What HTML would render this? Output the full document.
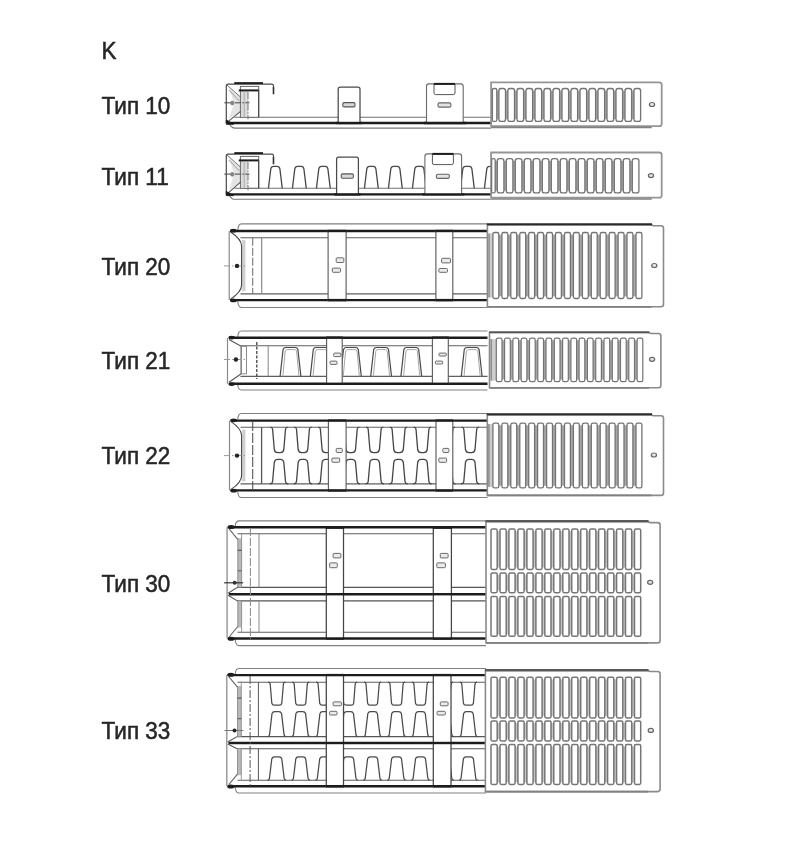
<!DOCTYPE html>
<html lang="ru">
<head>
<meta charset="utf-8">
<title>K — Тип 10, 11, 20, 21, 22, 30, 33</title>
<style>
html,body{margin:0;padding:0;background:#fff;}
body{width:790px;height:855px;position:relative;overflow:hidden;font-family:"Liberation Sans",sans-serif;}
.lb{position:absolute;left:101.6px;font-size:22.5px;line-height:26px;height:26px;color:#262626;white-space:nowrap;filter:blur(0.75px);transform:scaleY(1.05);transform-origin:0 13px;-webkit-text-stroke:0.5px #262626;}
svg{position:absolute;left:0;top:0;filter:blur(0.5px);}
</style>
</head>
<body>
<div class="lb" style="top:39.00px">K</div>
<div class="lb" style="top:93.55px">Тип 10</div>
<div class="lb" style="top:164.90px">Тип 11</div>
<div class="lb" style="top:255.05px">Тип 20</div>
<div class="lb" style="top:348.85px">Тип 21</div>
<div class="lb" style="top:444.40px">Тип 22</div>
<div class="lb" style="top:571.90px">Тип 30</div>
<div class="lb" style="top:719.30px">Тип 33</div>
<svg width="790" height="855" viewBox="0 0 790 855" fill="none" stroke-linecap="butt">
<line x1="234.5" y1="117.3" x2="491.0" y2="117.3" stroke="#707070" stroke-width="1.1" />
<line x1="227.0" y1="123.0" x2="491.0" y2="123.0" stroke="#1c1c1c" stroke-width="2.4" />
<path d="M229.5,124.0 Q231.5,128.1 235,128.1 H491" fill="none" stroke="#787878" stroke-width="1.1" />
<polygon points="229,88.1 240.3,97.1 240.3,111.3 229,119.0 234,102.8" fill="#d9d9d9" opacity="0.7"/>
<path d="M226.3,123.0 V85.6 Q226.3,84.1 227.8,84.1 H271.7 Q273.5,84.1 273.5,85.9 V93.9" fill="none" stroke="#4a4a4a" stroke-width="1.2" />
<line x1="273.5" y1="87.1" x2="273.5" y2="94.3" stroke="#333" stroke-width="1.5" />
<line x1="234.3" y1="83.1" x2="263.0" y2="83.1" stroke="#1c1c1c" stroke-width="1.9" />
<rect x="240.4" y="86.4" width="18.3" height="30.9" rx="0" fill="#fff" stroke="#666" stroke-width="1.0"/>
<rect x="241" y="91.1" width="7" height="25.7" fill="#dcdcdc"/>
<line x1="238.8" y1="90.4" x2="258.8" y2="90.4" stroke="#1c1c1c" stroke-width="2.0" />
<line x1="244.2" y1="91.1" x2="244.2" y2="117.3" stroke="#aaa" stroke-width="1.0" />
<line x1="258.7" y1="90.1" x2="258.7" y2="117.3" stroke="#444" stroke-width="1.1" />
<line x1="226.5" y1="84.6" x2="240.5" y2="97.1" stroke="#707070" stroke-width="1.0" />
<line x1="229.0" y1="90.1" x2="239.5" y2="101.1" stroke="#999" stroke-width="1.0" />
<line x1="227.5" y1="122.2" x2="240.5" y2="111.3" stroke="#555" stroke-width="1.1" />
<path d="M226.3,120.0 L233.5,124.2 H226.3 Z" fill="#1c1c1c" stroke="#1c1c1c" stroke-width="1.0" />
<line x1="224.3" y1="102.8" x2="249.5" y2="102.8" stroke="#444" stroke-width="1.0" stroke-dasharray="6 1.5 1.5 1.5"/>
<line x1="248.0" y1="92.1" x2="248.0" y2="119.3" stroke="#777" stroke-width="1.0" stroke-dasharray="7 1.5 1.5 1.5"/>
<ellipse cx="232.2" cy="103.0" rx="1.7" ry="1.9" fill="#888" stroke="#777" stroke-width="0.8"/>
<path d="M338.2,123.0 V89.2 Q338.2,87.2 340.2,87.2 H358.0 Q360.0,87.2 360.0,89.2 V123.0" fill="#fff" stroke="#4a4a4a" stroke-width="1.25" />
<rect x="342.8" y="102.6" width="12.2" height="4.3" rx="1.4" fill="#d8d8d8" stroke="#555" stroke-width="1.1"/>
<path d="M426.5,123.0 V86.4 Q426.5,83.9 429.0,83.9 H460.7 Q463.2,83.9 463.2,86.4 V123.0" fill="#fff" stroke="#6a6a6a" stroke-width="1.1" />
<path d="M434.0,83.9 V92.9 Q434.0,94.6 435.7,94.6 H453.3 Q455.0,94.6 455.0,92.9 V83.9" fill="none" stroke="#555" stroke-width="1.0" />
<line x1="434.0" y1="83.9" x2="455.0" y2="83.9" stroke="#1c1c1c" stroke-width="2.0" />
<rect x="438.0" y="102.9" width="12.9" height="4.2" rx="1.4" fill="#e4e4e4" stroke="#666" stroke-width="1.1"/>
<line x1="336.0" y1="123.0" x2="362.0" y2="123.0" stroke="#1c1c1c" stroke-width="2.4" />
<line x1="424.0" y1="123.0" x2="466.0" y2="123.0" stroke="#1c1c1c" stroke-width="2.4" />
<path d="M491.1,82.3 H659.2 Q661.7,82.3 661.7,84.8 V123.7 Q661.7,126.2 659.2,126.2 H491.1 Z" fill="#fff" stroke="#959595" stroke-width="1.8" />
<line x1="491.1" y1="127.5" x2="651.7" y2="127.5" stroke="#808080" stroke-width="1.4" />
<rect x="493.4" y="90.7" width="146.2" height="28.5" fill="#a8a8a8"/>
<rect x="492.4" y="88.5" width="4.4" height="32.9" rx="1.5" fill="#fff" stroke="#747474" stroke-width="1.3"/>
<rect x="498.9" y="88.5" width="6.6" height="32.9" rx="2.2" fill="#fff" stroke="#747474" stroke-width="1.3"/>
<rect x="507.9" y="88.5" width="6.6" height="32.9" rx="2.2" fill="#fff" stroke="#747474" stroke-width="1.3"/>
<rect x="517.0" y="88.5" width="6.6" height="32.9" rx="2.2" fill="#fff" stroke="#747474" stroke-width="1.3"/>
<rect x="526.0" y="88.5" width="6.6" height="32.9" rx="2.2" fill="#fff" stroke="#747474" stroke-width="1.3"/>
<rect x="535.0" y="88.5" width="6.6" height="32.9" rx="2.2" fill="#fff" stroke="#747474" stroke-width="1.3"/>
<rect x="544.0" y="88.5" width="6.6" height="32.9" rx="2.2" fill="#fff" stroke="#747474" stroke-width="1.3"/>
<rect x="553.0" y="88.5" width="6.6" height="32.9" rx="2.2" fill="#fff" stroke="#747474" stroke-width="1.3"/>
<rect x="562.0" y="88.5" width="6.6" height="32.9" rx="2.2" fill="#fff" stroke="#747474" stroke-width="1.3"/>
<rect x="571.0" y="88.5" width="6.6" height="32.9" rx="2.2" fill="#fff" stroke="#747474" stroke-width="1.3"/>
<rect x="580.0" y="88.5" width="6.6" height="32.9" rx="2.2" fill="#fff" stroke="#747474" stroke-width="1.3"/>
<rect x="589.0" y="88.5" width="6.6" height="32.9" rx="2.2" fill="#fff" stroke="#747474" stroke-width="1.3"/>
<rect x="598.0" y="88.5" width="6.6" height="32.9" rx="2.2" fill="#fff" stroke="#747474" stroke-width="1.3"/>
<rect x="607.0" y="88.5" width="6.6" height="32.9" rx="2.2" fill="#fff" stroke="#747474" stroke-width="1.3"/>
<rect x="616.0" y="88.5" width="6.6" height="32.9" rx="2.2" fill="#fff" stroke="#747474" stroke-width="1.3"/>
<rect x="625.0" y="88.5" width="6.6" height="32.9" rx="2.2" fill="#fff" stroke="#747474" stroke-width="1.3"/>
<rect x="634.0" y="88.5" width="6.6" height="32.9" rx="2.2" fill="#fff" stroke="#747474" stroke-width="1.3"/>
<ellipse cx="652.0" cy="104.5" rx="2.6" ry="2.0" fill="#e6e6e6" stroke="#666" stroke-width="1.2"/>
<path d="M268.4,188.7 L270.8,168.8 Q271.3,166.3 273.6,166.3 H277.1 Q279.4,166.3 279.9,168.8 L282.3,188.7" fill="none" stroke="#484848" stroke-width="1.3" />
<path d="M292.4,188.7 L294.8,168.8 Q295.3,166.3 297.6,166.3 H301.1 Q303.4,166.3 303.9,168.8 L306.3,188.7" fill="none" stroke="#484848" stroke-width="1.3" />
<path d="M316.4,188.7 L318.8,168.8 Q319.3,166.3 321.6,166.3 H325.1 Q327.4,166.3 327.9,168.8 L330.3,188.7" fill="none" stroke="#484848" stroke-width="1.3" />
<path d="M340.4,188.7 L342.8,168.8 Q343.3,166.3 345.6,166.3 H349.1 Q351.4,166.3 351.9,168.8 L354.3,188.7" fill="none" stroke="#484848" stroke-width="1.3" />
<path d="M364.4,188.7 L366.8,168.8 Q367.3,166.3 369.6,166.3 H373.1 Q375.4,166.3 375.9,168.8 L378.3,188.7" fill="none" stroke="#484848" stroke-width="1.3" />
<path d="M388.4,188.7 L390.8,168.8 Q391.3,166.3 393.6,166.3 H397.1 Q399.4,166.3 399.9,168.8 L402.3,188.7" fill="none" stroke="#484848" stroke-width="1.3" />
<path d="M412.4,188.7 L414.8,168.8 Q415.3,166.3 417.6,166.3 H421.1 Q423.4,166.3 423.9,168.8 L426.3,188.7" fill="none" stroke="#484848" stroke-width="1.3" />
<path d="M436.4,188.7 L438.8,168.8 Q439.3,166.3 441.6,166.3 H445.1 Q447.4,166.3 447.9,168.8 L450.3,188.7" fill="none" stroke="#484848" stroke-width="1.3" />
<path d="M460.4,188.7 L462.8,168.8 Q463.3,166.3 465.6,166.3 H469.1 Q471.4,166.3 471.9,168.8 L474.3,188.7" fill="none" stroke="#484848" stroke-width="1.3" />
<path d="M484.4,188.7 L486.8,168.8 Q487.3,166.3 489.6,166.3 H493.1 Q495.4,166.3 495.9,168.8 L498.3,188.7" fill="none" stroke="#484848" stroke-width="1.3" />
<line x1="234.5" y1="188.2" x2="491.0" y2="188.2" stroke="#707070" stroke-width="1.1" />
<line x1="227.0" y1="194.4" x2="491.0" y2="194.4" stroke="#1c1c1c" stroke-width="2.4" />
<path d="M229.5,195.4 Q231.5,199.3 235,199.3 H491" fill="none" stroke="#787878" stroke-width="1.1" />
<polygon points="229,158.1 240.3,167.1 240.3,182.2 229,190.4 234,174.1" fill="#d9d9d9" opacity="0.7"/>
<path d="M226.3,194.4 V155.6 Q226.3,154.1 227.8,154.1 H271.7 Q273.5,154.1 273.5,155.9 V163.9" fill="none" stroke="#4a4a4a" stroke-width="1.2" />
<line x1="273.5" y1="157.1" x2="273.5" y2="164.3" stroke="#333" stroke-width="1.5" />
<line x1="234.3" y1="153.1" x2="263.0" y2="153.1" stroke="#1c1c1c" stroke-width="1.9" />
<rect x="240.4" y="156.4" width="18.3" height="31.8" rx="0" fill="#fff" stroke="#666" stroke-width="1.0"/>
<rect x="241" y="161.1" width="7" height="26.6" fill="#dcdcdc"/>
<line x1="238.8" y1="160.4" x2="258.8" y2="160.4" stroke="#1c1c1c" stroke-width="2.0" />
<line x1="244.2" y1="161.1" x2="244.2" y2="188.2" stroke="#aaa" stroke-width="1.0" />
<line x1="258.7" y1="160.1" x2="258.7" y2="188.2" stroke="#444" stroke-width="1.1" />
<line x1="226.5" y1="154.6" x2="240.5" y2="167.1" stroke="#707070" stroke-width="1.0" />
<line x1="229.0" y1="160.1" x2="239.5" y2="171.1" stroke="#999" stroke-width="1.0" />
<line x1="227.5" y1="193.6" x2="240.5" y2="182.2" stroke="#555" stroke-width="1.1" />
<path d="M226.3,191.4 L233.5,195.6 H226.3 Z" fill="#1c1c1c" stroke="#1c1c1c" stroke-width="1.0" />
<line x1="224.3" y1="174.1" x2="249.5" y2="174.1" stroke="#444" stroke-width="1.0" stroke-dasharray="6 1.5 1.5 1.5"/>
<line x1="248.0" y1="162.1" x2="248.0" y2="190.2" stroke="#777" stroke-width="1.0" stroke-dasharray="7 1.5 1.5 1.5"/>
<ellipse cx="232.2" cy="174.3" rx="1.7" ry="1.9" fill="#888" stroke="#777" stroke-width="0.8"/>
<path d="M336.6,194.4 V159.2 Q336.6,157.2 338.6,157.2 H356.4 Q358.4,157.2 358.4,159.2 V194.4" fill="#fff" stroke="#4a4a4a" stroke-width="1.25" />
<rect x="341.2" y="173.9" width="12.2" height="4.3" rx="1.4" fill="#d8d8d8" stroke="#555" stroke-width="1.1"/>
<path d="M424.9,194.4 V156.4 Q424.9,153.9 427.4,153.9 H459.1 Q461.6,153.9 461.6,156.4 V194.4" fill="#fff" stroke="#6a6a6a" stroke-width="1.1" />
<path d="M432.4,153.9 V162.9 Q432.4,164.6 434.1,164.6 H451.7 Q453.4,164.6 453.4,162.9 V153.9" fill="none" stroke="#555" stroke-width="1.0" />
<line x1="432.4" y1="153.9" x2="453.4" y2="153.9" stroke="#1c1c1c" stroke-width="2.0" />
<rect x="436.4" y="174.2" width="12.9" height="4.2" rx="1.4" fill="#e4e4e4" stroke="#666" stroke-width="1.1"/>
<line x1="334.4" y1="194.4" x2="360.4" y2="194.4" stroke="#1c1c1c" stroke-width="2.4" />
<line x1="422.4" y1="194.4" x2="464.4" y2="194.4" stroke="#1c1c1c" stroke-width="2.4" />
<path d="M491.1,152.5 H659.2 Q661.7,152.5 661.7,155.0 V195.2 Q661.7,197.7 659.2,197.7 H491.1 Z" fill="#fff" stroke="#959595" stroke-width="1.8" />
<line x1="491.1" y1="199.0" x2="651.7" y2="199.0" stroke="#808080" stroke-width="1.4" />
<rect x="492.6" y="160.9" width="145.3" height="29.8" fill="#a8a8a8"/>
<rect x="491.6" y="158.7" width="3.6" height="34.2" rx="1.5" fill="#fff" stroke="#747474" stroke-width="1.3"/>
<rect x="497.3" y="158.7" width="6.6" height="34.2" rx="2.2" fill="#fff" stroke="#747474" stroke-width="1.3"/>
<rect x="506.3" y="158.7" width="6.6" height="34.2" rx="2.2" fill="#fff" stroke="#747474" stroke-width="1.3"/>
<rect x="515.3" y="158.7" width="6.6" height="34.2" rx="2.2" fill="#fff" stroke="#747474" stroke-width="1.3"/>
<rect x="524.3" y="158.7" width="6.6" height="34.2" rx="2.2" fill="#fff" stroke="#747474" stroke-width="1.3"/>
<rect x="533.3" y="158.7" width="6.6" height="34.2" rx="2.2" fill="#fff" stroke="#747474" stroke-width="1.3"/>
<rect x="542.3" y="158.7" width="6.6" height="34.2" rx="2.2" fill="#fff" stroke="#747474" stroke-width="1.3"/>
<rect x="551.3" y="158.7" width="6.6" height="34.2" rx="2.2" fill="#fff" stroke="#747474" stroke-width="1.3"/>
<rect x="560.3" y="158.7" width="6.6" height="34.2" rx="2.2" fill="#fff" stroke="#747474" stroke-width="1.3"/>
<rect x="569.3" y="158.7" width="6.6" height="34.2" rx="2.2" fill="#fff" stroke="#747474" stroke-width="1.3"/>
<rect x="578.3" y="158.7" width="6.6" height="34.2" rx="2.2" fill="#fff" stroke="#747474" stroke-width="1.3"/>
<rect x="587.3" y="158.7" width="6.6" height="34.2" rx="2.2" fill="#fff" stroke="#747474" stroke-width="1.3"/>
<rect x="596.3" y="158.7" width="6.6" height="34.2" rx="2.2" fill="#fff" stroke="#747474" stroke-width="1.3"/>
<rect x="605.3" y="158.7" width="6.6" height="34.2" rx="2.2" fill="#fff" stroke="#747474" stroke-width="1.3"/>
<rect x="614.3" y="158.7" width="6.6" height="34.2" rx="2.2" fill="#fff" stroke="#747474" stroke-width="1.3"/>
<rect x="623.3" y="158.7" width="6.6" height="34.2" rx="2.2" fill="#fff" stroke="#747474" stroke-width="1.3"/>
<rect x="632.3" y="158.7" width="6.6" height="34.2" rx="2.2" fill="#fff" stroke="#747474" stroke-width="1.3"/>
<ellipse cx="651.0" cy="175.6" rx="2.6" ry="2.0" fill="#e6e6e6" stroke="#666" stroke-width="1.2"/>
<path d="M237.8,230.0 Q238.0,223.9 241.5,223.9 H487.5" fill="none" stroke="#808080" stroke-width="1.1" />
<path d="M237.8,301.1 Q238.0,307.5 241.5,307.5 H487.5" fill="none" stroke="#808080" stroke-width="1.1" />
<line x1="230.2" y1="231.0" x2="487.5" y2="231.0" stroke="#1c1c1c" stroke-width="2.4" />
<line x1="230.2" y1="300.1" x2="487.5" y2="300.1" stroke="#1c1c1c" stroke-width="2.4" />
<line x1="240.5" y1="237.7" x2="487.5" y2="237.7" stroke="#5e5e5e" stroke-width="1.1" />
<line x1="240.5" y1="293.9" x2="487.5" y2="293.9" stroke="#5e5e5e" stroke-width="1.1" />
<path d="M229.2,231.0 V300.1" fill="none" stroke="#8a8a8a" stroke-width="1.2" />
<rect x="242.2" y="240.0" width="3.2" height="51.1" fill="#cfcfcf"/>
<path d="M230.7,232.0 C235.2,235.0 241.6,240.0 241.6,246.0 V285.1 C241.6,291.1 235.2,296.1 230.7,299.1" fill="none" stroke="#444" stroke-width="1.1" />
<ellipse cx="233.4" cy="230.7" rx="3.3" ry="1.9" fill="#1c1c1c"/>
<ellipse cx="233.4" cy="300.4" rx="3.3" ry="1.9" fill="#1c1c1c"/>
<line x1="252.7" y1="237.7" x2="252.7" y2="294.0" stroke="#777" stroke-width="1.1" stroke-dasharray="8 2"/>
<line x1="261.7" y1="237.7" x2="261.7" y2="293.9" stroke="#8a8a8a" stroke-width="1.2" />
<line x1="224.0" y1="265.9" x2="246.5" y2="265.9" stroke="#999" stroke-width="1.0" stroke-dasharray="6 2 1.5 2"/>
<circle cx="237" cy="265.9" r="2.2" fill="#222"/>
<rect x="328.1" y="231.0" width="18.0" height="69.1" rx="0" fill="#fff" stroke="#5e5e5e" stroke-width="1.15"/>
<line x1="327.6" y1="231.0" x2="346.6" y2="231.0" stroke="#1c1c1c" stroke-width="2.4" />
<line x1="327.6" y1="300.1" x2="346.6" y2="300.1" stroke="#1c1c1c" stroke-width="2.4" />
<rect x="336.2" y="257.8" width="7.6" height="4.7" rx="0.9" fill="#ebebeb" stroke="#6a6a6a" stroke-width="1.0"/>
<rect x="332.3" y="268.1" width="8.2" height="4.2" rx="0.9" fill="#ebebeb" stroke="#6a6a6a" stroke-width="1.0"/>
<rect x="435.9" y="231.0" width="16.9" height="69.1" rx="0" fill="#fff" stroke="#5e5e5e" stroke-width="1.15"/>
<line x1="435.4" y1="231.0" x2="453.3" y2="231.0" stroke="#1c1c1c" stroke-width="2.4" />
<line x1="435.4" y1="300.1" x2="453.3" y2="300.1" stroke="#1c1c1c" stroke-width="2.4" />
<rect x="441.6" y="258.3" width="8.9" height="4.6" rx="0.9" fill="#ebebeb" stroke="#6a6a6a" stroke-width="1.0"/>
<rect x="438.9" y="268.5" width="8.6" height="3.8" rx="0.9" fill="#ebebeb" stroke="#6a6a6a" stroke-width="1.0"/>
<path d="M487.4,224.9 H651.5 L653.5,225.7 H661.0 Q663.5,225.7 663.5,228.2 V304.3 Q663.5,306.8 661.0,306.8 H487.4 Z" fill="#fff" stroke="#8a8a8a" stroke-width="1.6" />
<line x1="486.9" y1="224.3" x2="652.0" y2="224.3" stroke="#2a2a2a" stroke-width="1.9" />
<line x1="487.4" y1="306.8" x2="651.5" y2="306.8" stroke="#808080" stroke-width="1.8" />
<rect x="488.6" y="233.5" width="5.6" height="64.0" fill="#cdcdcd"/>
<line x1="489.0" y1="233.5" x2="489.0" y2="297.5" stroke="#666" stroke-width="1.0" />
<rect x="493.9" y="234.7" width="146.9" height="61.6" fill="#a8a8a8"/>
<rect x="492.9" y="232.5" width="5.9" height="66.0" rx="1.7" fill="#fff" stroke="#747474" stroke-width="1.3"/>
<rect x="501.9" y="232.5" width="5.9" height="66.0" rx="1.7" fill="#fff" stroke="#747474" stroke-width="1.3"/>
<rect x="510.8" y="232.5" width="5.9" height="66.0" rx="1.7" fill="#fff" stroke="#747474" stroke-width="1.3"/>
<rect x="519.8" y="232.5" width="5.9" height="66.0" rx="1.7" fill="#fff" stroke="#747474" stroke-width="1.3"/>
<rect x="528.7" y="232.5" width="5.9" height="66.0" rx="1.7" fill="#fff" stroke="#747474" stroke-width="1.3"/>
<rect x="537.6" y="232.5" width="5.9" height="66.0" rx="1.7" fill="#fff" stroke="#747474" stroke-width="1.3"/>
<rect x="546.6" y="232.5" width="5.9" height="66.0" rx="1.7" fill="#fff" stroke="#747474" stroke-width="1.3"/>
<rect x="555.5" y="232.5" width="5.9" height="66.0" rx="1.7" fill="#fff" stroke="#747474" stroke-width="1.3"/>
<rect x="564.5" y="232.5" width="5.9" height="66.0" rx="1.7" fill="#fff" stroke="#747474" stroke-width="1.3"/>
<rect x="573.4" y="232.5" width="5.9" height="66.0" rx="1.7" fill="#fff" stroke="#747474" stroke-width="1.3"/>
<rect x="582.4" y="232.5" width="5.9" height="66.0" rx="1.7" fill="#fff" stroke="#747474" stroke-width="1.3"/>
<rect x="591.3" y="232.5" width="5.9" height="66.0" rx="1.7" fill="#fff" stroke="#747474" stroke-width="1.3"/>
<rect x="600.2" y="232.5" width="5.9" height="66.0" rx="1.7" fill="#fff" stroke="#747474" stroke-width="1.3"/>
<rect x="609.2" y="232.5" width="5.9" height="66.0" rx="1.7" fill="#fff" stroke="#747474" stroke-width="1.3"/>
<rect x="618.1" y="232.5" width="5.9" height="66.0" rx="1.7" fill="#fff" stroke="#747474" stroke-width="1.3"/>
<rect x="627.0" y="232.5" width="5.9" height="66.0" rx="1.7" fill="#fff" stroke="#747474" stroke-width="1.3"/>
<rect x="636.0" y="232.5" width="5.9" height="66.0" rx="1.7" fill="#fff" stroke="#747474" stroke-width="1.3"/>
<ellipse cx="654.3" cy="265.5" rx="2.6" ry="2.0" fill="#e6e6e6" stroke="#666" stroke-width="1.2"/>
<path d="M237.8,336.7 Q238.0,331.0 241.5,331.0 H487.5" fill="none" stroke="#808080" stroke-width="1.1" />
<path d="M237.8,384.8 Q238.0,390.0 241.5,390.0 H487.5" fill="none" stroke="#808080" stroke-width="1.1" />
<line x1="229.3" y1="337.7" x2="487.5" y2="337.7" stroke="#1c1c1c" stroke-width="2.4" />
<line x1="229.3" y1="383.8" x2="487.5" y2="383.8" stroke="#1c1c1c" stroke-width="2.4" />
<line x1="240.5" y1="345.7" x2="487.5" y2="345.7" stroke="#5e5e5e" stroke-width="1.1" />
<line x1="240.5" y1="376.4" x2="487.5" y2="376.4" stroke="#5e5e5e" stroke-width="1.1" />
<path d="M227.5,337.9 V383.8" fill="none" stroke="#8a8a8a" stroke-width="1.2" />
<path d="M229.0,339.4 L241.2,346.3 V373.8 L229.0,382.3" fill="none" stroke="#555" stroke-width="1.1" />
<rect x="241.2" y="346.3" width="5.3" height="27.5" rx="0" fill="none" stroke="#8a8a8a" stroke-width="1.0"/>
<ellipse cx="231.7" cy="337.6" rx="3.3" ry="1.9" fill="#1c1c1c"/>
<ellipse cx="231.7" cy="384.1" rx="3.3" ry="1.9" fill="#1c1c1c"/>
<path d="M282.8,376.4 L285.2,351.1 Q285.8,349.6 287.3,349.6 H294.5 Q296.0,349.6 296.6,351.1 L299.0,376.4" fill="none" stroke="#a6a6a6" stroke-width="1.0" />
<path d="M280.1,376.4 L283.1,349.5 Q283.8,347.5 285.8,347.5 H295.2 Q297.2,347.5 297.9,349.5 L300.9,376.4" fill="none" stroke="#4a4a4a" stroke-width="1.2" />
<path d="M313.0,376.4 L315.4,351.1 Q316.0,349.6 317.5,349.6 H324.7 Q326.2,349.6 326.8,351.1 L329.2,376.4" fill="none" stroke="#a6a6a6" stroke-width="1.0" />
<path d="M310.3,376.4 L313.3,349.5 Q314.0,347.5 316.0,347.5 H325.4 Q327.4,347.5 328.1,349.5 L331.1,376.4" fill="none" stroke="#4a4a4a" stroke-width="1.2" />
<path d="M343.2,376.4 L345.6,351.1 Q346.2,349.6 347.7,349.6 H354.9 Q356.4,349.6 357.0,351.1 L359.4,376.4" fill="none" stroke="#a6a6a6" stroke-width="1.0" />
<path d="M340.5,376.4 L343.5,349.5 Q344.2,347.5 346.2,347.5 H355.6 Q357.6,347.5 358.3,349.5 L361.3,376.4" fill="none" stroke="#4a4a4a" stroke-width="1.2" />
<path d="M373.4,376.4 L375.8,351.1 Q376.4,349.6 377.9,349.6 H385.1 Q386.6,349.6 387.2,351.1 L389.6,376.4" fill="none" stroke="#a6a6a6" stroke-width="1.0" />
<path d="M370.7,376.4 L373.7,349.5 Q374.4,347.5 376.4,347.5 H385.8 Q387.8,347.5 388.5,349.5 L391.5,376.4" fill="none" stroke="#4a4a4a" stroke-width="1.2" />
<path d="M403.6,376.4 L406.0,351.1 Q406.6,349.6 408.1,349.6 H415.3 Q416.8,349.6 417.4,351.1 L419.8,376.4" fill="none" stroke="#a6a6a6" stroke-width="1.0" />
<path d="M400.9,376.4 L403.9,349.5 Q404.6,347.5 406.6,347.5 H416.0 Q418.0,347.5 418.7,349.5 L421.7,376.4" fill="none" stroke="#4a4a4a" stroke-width="1.2" />
<path d="M464.0,376.4 L466.4,351.1 Q467.0,349.6 468.5,349.6 H475.7 Q477.2,349.6 477.8,351.1 L480.2,376.4" fill="none" stroke="#a6a6a6" stroke-width="1.0" />
<path d="M461.3,376.4 L464.3,349.5 Q465.0,347.5 467.0,347.5 H476.4 Q478.4,347.5 479.1,349.5 L482.1,376.4" fill="none" stroke="#4a4a4a" stroke-width="1.2" />
<line x1="256.8" y1="342.0" x2="256.8" y2="379.0" stroke="#333" stroke-width="1.2" stroke-dasharray="3 1.5"/>
<line x1="268.2" y1="346.0" x2="268.2" y2="376.0" stroke="#999" stroke-width="1.2" />
<line x1="224.0" y1="359.5" x2="246.5" y2="359.5" stroke="#999" stroke-width="1.0" stroke-dasharray="6 2 1.5 2"/>
<circle cx="235.9" cy="359.5" r="2.2" fill="#222"/>
<rect x="326.6" y="337.7" width="15.6" height="46.1" rx="0" fill="#fff" stroke="#5e5e5e" stroke-width="1.15"/>
<line x1="326.1" y1="337.7" x2="342.7" y2="337.7" stroke="#1c1c1c" stroke-width="2.4" />
<line x1="326.1" y1="383.8" x2="342.7" y2="383.8" stroke="#1c1c1c" stroke-width="2.4" />
<rect x="333.7" y="353.1" width="7.2" height="3.5" rx="0.9" fill="#ebebeb" stroke="#6a6a6a" stroke-width="1.0"/>
<rect x="330.1" y="361.1" width="6.9" height="3.3" rx="0.9" fill="#ebebeb" stroke="#6a6a6a" stroke-width="1.0"/>
<rect x="432.4" y="337.7" width="15.9" height="46.1" rx="0" fill="#fff" stroke="#5e5e5e" stroke-width="1.15"/>
<line x1="431.9" y1="337.7" x2="448.8" y2="337.7" stroke="#1c1c1c" stroke-width="2.4" />
<line x1="431.9" y1="383.8" x2="448.8" y2="383.8" stroke="#1c1c1c" stroke-width="2.4" />
<rect x="438.9" y="353.1" width="7.4" height="2.9" rx="0.9" fill="#ebebeb" stroke="#6a6a6a" stroke-width="1.0"/>
<rect x="435.4" y="361.1" width="7.3" height="2.9" rx="0.9" fill="#ebebeb" stroke="#6a6a6a" stroke-width="1.0"/>
<path d="M489.5,332.7 H648.9 L650.9,333.5 H658.4 Q660.9,333.5 660.9,336.0 V385.3 Q660.9,387.8 658.4,387.8 H489.5 Z" fill="#fff" stroke="#8a8a8a" stroke-width="1.6" />
<line x1="489.0" y1="332.1" x2="649.4" y2="332.1" stroke="#555" stroke-width="1.9" />
<line x1="489.5" y1="387.8" x2="648.9" y2="387.8" stroke="#808080" stroke-width="1.8" />
<rect x="490.7" y="339.1" width="6.8" height="41.6" fill="#cdcdcd"/>
<line x1="491.1" y1="339.1" x2="491.1" y2="380.7" stroke="#666" stroke-width="1.0" />
<rect x="497.3" y="340.3" width="144.5" height="39.2" fill="#a8a8a8"/>
<rect x="496.3" y="338.1" width="5.7" height="43.6" rx="1.7" fill="#fff" stroke="#747474" stroke-width="1.2"/>
<rect x="504.6" y="338.1" width="5.7" height="43.6" rx="1.7" fill="#fff" stroke="#747474" stroke-width="1.2"/>
<rect x="512.9" y="338.1" width="5.7" height="43.6" rx="1.7" fill="#fff" stroke="#747474" stroke-width="1.2"/>
<rect x="521.2" y="338.1" width="5.7" height="43.6" rx="1.7" fill="#fff" stroke="#747474" stroke-width="1.2"/>
<rect x="529.5" y="338.1" width="5.7" height="43.6" rx="1.7" fill="#fff" stroke="#747474" stroke-width="1.2"/>
<rect x="537.8" y="338.1" width="5.7" height="43.6" rx="1.7" fill="#fff" stroke="#747474" stroke-width="1.2"/>
<rect x="546.0" y="338.1" width="5.7" height="43.6" rx="1.7" fill="#fff" stroke="#747474" stroke-width="1.2"/>
<rect x="554.3" y="338.1" width="5.7" height="43.6" rx="1.7" fill="#fff" stroke="#747474" stroke-width="1.2"/>
<rect x="562.6" y="338.1" width="5.7" height="43.6" rx="1.7" fill="#fff" stroke="#747474" stroke-width="1.2"/>
<rect x="570.9" y="338.1" width="5.7" height="43.6" rx="1.7" fill="#fff" stroke="#747474" stroke-width="1.2"/>
<rect x="579.1" y="338.1" width="5.7" height="43.6" rx="1.7" fill="#fff" stroke="#747474" stroke-width="1.2"/>
<rect x="587.4" y="338.1" width="5.7" height="43.6" rx="1.7" fill="#fff" stroke="#747474" stroke-width="1.2"/>
<rect x="595.7" y="338.1" width="5.7" height="43.6" rx="1.7" fill="#fff" stroke="#747474" stroke-width="1.2"/>
<rect x="604.0" y="338.1" width="5.7" height="43.6" rx="1.7" fill="#fff" stroke="#747474" stroke-width="1.2"/>
<rect x="612.3" y="338.1" width="5.7" height="43.6" rx="1.7" fill="#fff" stroke="#747474" stroke-width="1.2"/>
<rect x="620.5" y="338.1" width="5.7" height="43.6" rx="1.7" fill="#fff" stroke="#747474" stroke-width="1.2"/>
<rect x="628.8" y="338.1" width="5.7" height="43.6" rx="1.7" fill="#fff" stroke="#747474" stroke-width="1.2"/>
<rect x="637.1" y="338.1" width="5.7" height="43.6" rx="1.7" fill="#fff" stroke="#747474" stroke-width="1.2"/>
<ellipse cx="652.1" cy="359.3" rx="2.6" ry="2.0" fill="#e6e6e6" stroke="#666" stroke-width="1.2"/>
<path d="M237.8,419.6 Q238.0,413.5 241.5,413.5 H487.5" fill="none" stroke="#808080" stroke-width="1.1" />
<path d="M237.8,491.4 Q238.0,497.5 241.5,497.5 H487.5" fill="none" stroke="#808080" stroke-width="1.1" />
<line x1="230.5" y1="420.6" x2="487.5" y2="420.6" stroke="#1c1c1c" stroke-width="2.4" />
<line x1="230.5" y1="490.4" x2="487.5" y2="490.4" stroke="#1c1c1c" stroke-width="2.4" />
<line x1="240.5" y1="427.2" x2="487.5" y2="427.2" stroke="#5e5e5e" stroke-width="1.1" />
<line x1="240.5" y1="483.9" x2="487.5" y2="483.9" stroke="#5e5e5e" stroke-width="1.1" />
<path d="M229.5,420.6 V490.4" fill="none" stroke="#8a8a8a" stroke-width="1.2" />
<rect x="242.2" y="429.6" width="3.2" height="51.8" fill="#cfcfcf"/>
<path d="M231.0,421.6 C235.5,424.6 241.6,429.6 241.6,435.6 V475.4 C241.6,481.4 235.5,486.4 231.0,489.4" fill="none" stroke="#444" stroke-width="1.1" />
<ellipse cx="233.7" cy="420.3" rx="3.3" ry="1.9" fill="#1c1c1c"/>
<ellipse cx="233.7" cy="490.7" rx="3.3" ry="1.9" fill="#1c1c1c"/>
<path d="M270.4,427.2 Q272.2,427.2 272.6,429.2 L274.3,449.7 Q274.8,452.7 277.8,452.7 H280.3 Q283.3,452.7 283.8,449.7 L285.5,429.2 Q285.9,427.2 287.7,427.2" fill="none" stroke="#444" stroke-width="1.3" />
<path d="M269.9,483.9 Q272.2,483.9 272.6,481.4 L274.3,462.3 Q274.8,459.3 277.8,459.3 H280.3 Q283.3,459.3 283.8,462.3 L285.5,481.4 Q285.9,483.9 288.2,483.9" fill="none" stroke="#444" stroke-width="1.3" />
<path d="M294.3,427.2 Q296.1,427.2 296.5,429.2 L298.2,449.7 Q298.7,452.7 301.7,452.7 H304.2 Q307.2,452.7 307.7,449.7 L309.4,429.2 Q309.8,427.2 311.6,427.2" fill="none" stroke="#444" stroke-width="1.3" />
<path d="M293.8,483.9 Q296.1,483.9 296.5,481.4 L298.2,462.3 Q298.7,459.3 301.7,459.3 H304.2 Q307.2,459.3 307.7,462.3 L309.4,481.4 Q309.8,483.9 312.1,483.9" fill="none" stroke="#444" stroke-width="1.3" />
<path d="M318.2,427.2 Q320.0,427.2 320.4,429.2 L322.1,449.7 Q322.6,452.7 325.6,452.7 H328.1 Q331.1,452.7 331.6,449.7 L333.3,429.2 Q333.7,427.2 335.5,427.2" fill="none" stroke="#444" stroke-width="1.3" />
<path d="M317.7,483.9 Q320.0,483.9 320.4,481.4 L322.1,462.3 Q322.6,459.3 325.6,459.3 H328.1 Q331.1,459.3 331.6,462.3 L333.3,481.4 Q333.7,483.9 336.0,483.9" fill="none" stroke="#444" stroke-width="1.3" />
<path d="M342.1,427.2 Q343.9,427.2 344.3,429.2 L346.0,449.7 Q346.5,452.7 349.5,452.7 H352.0 Q355.0,452.7 355.5,449.7 L357.2,429.2 Q357.6,427.2 359.4,427.2" fill="none" stroke="#444" stroke-width="1.3" />
<path d="M341.6,483.9 Q343.9,483.9 344.3,481.4 L346.0,462.3 Q346.5,459.3 349.5,459.3 H352.0 Q355.0,459.3 355.5,462.3 L357.2,481.4 Q357.6,483.9 359.9,483.9" fill="none" stroke="#444" stroke-width="1.3" />
<path d="M366.0,427.2 Q367.8,427.2 368.2,429.2 L369.9,449.7 Q370.4,452.7 373.4,452.7 H375.9 Q378.9,452.7 379.4,449.7 L381.1,429.2 Q381.5,427.2 383.3,427.2" fill="none" stroke="#444" stroke-width="1.3" />
<path d="M365.5,483.9 Q367.8,483.9 368.2,481.4 L369.9,462.3 Q370.4,459.3 373.4,459.3 H375.9 Q378.9,459.3 379.4,462.3 L381.1,481.4 Q381.5,483.9 383.8,483.9" fill="none" stroke="#444" stroke-width="1.3" />
<path d="M389.9,427.2 Q391.7,427.2 392.1,429.2 L393.8,449.7 Q394.3,452.7 397.3,452.7 H399.8 Q402.8,452.7 403.3,449.7 L405.0,429.2 Q405.4,427.2 407.2,427.2" fill="none" stroke="#444" stroke-width="1.3" />
<path d="M389.4,483.9 Q391.7,483.9 392.1,481.4 L393.8,462.3 Q394.3,459.3 397.3,459.3 H399.8 Q402.8,459.3 403.3,462.3 L405.0,481.4 Q405.4,483.9 407.7,483.9" fill="none" stroke="#444" stroke-width="1.3" />
<path d="M413.8,427.2 Q415.6,427.2 416.0,429.2 L417.7,449.7 Q418.2,452.7 421.2,452.7 H423.7 Q426.7,452.7 427.2,449.7 L428.9,429.2 Q429.3,427.2 431.1,427.2" fill="none" stroke="#444" stroke-width="1.3" />
<path d="M413.3,483.9 Q415.6,483.9 416.0,481.4 L417.7,462.3 Q418.2,459.3 421.2,459.3 H423.7 Q426.7,459.3 427.2,462.3 L428.9,481.4 Q429.3,483.9 431.6,483.9" fill="none" stroke="#444" stroke-width="1.3" />
<path d="M437.7,427.2 Q439.5,427.2 439.9,429.2 L441.6,449.7 Q442.1,452.7 445.1,452.7 H447.6 Q450.6,452.7 451.1,449.7 L452.8,429.2 Q453.2,427.2 455.0,427.2" fill="none" stroke="#444" stroke-width="1.3" />
<path d="M437.2,483.9 Q439.5,483.9 439.9,481.4 L441.6,462.3 Q442.1,459.3 445.1,459.3 H447.6 Q450.6,459.3 451.1,462.3 L452.8,481.4 Q453.2,483.9 455.5,483.9" fill="none" stroke="#444" stroke-width="1.3" />
<path d="M461.6,427.2 Q463.4,427.2 463.8,429.2 L465.5,449.7 Q466.0,452.7 469.0,452.7 H471.5 Q474.5,452.7 475.0,449.7 L476.7,429.2 Q477.1,427.2 478.9,427.2" fill="none" stroke="#444" stroke-width="1.3" />
<path d="M461.1,483.9 Q463.4,483.9 463.8,481.4 L465.5,462.3 Q466.0,459.3 469.0,459.3 H471.5 Q474.5,459.3 475.0,462.3 L476.7,481.4 Q477.1,483.9 479.4,483.9" fill="none" stroke="#444" stroke-width="1.3" />
<line x1="252.7" y1="421.0" x2="252.7" y2="490.0" stroke="#555" stroke-width="1.1" stroke-dasharray="10 2"/>
<line x1="261.6" y1="427.2" x2="261.6" y2="483.9" stroke="#555" stroke-width="1.3" />
<line x1="224.0" y1="455.6" x2="246.5" y2="455.6" stroke="#999" stroke-width="1.0" stroke-dasharray="6 2 1.5 2"/>
<circle cx="237" cy="455.6" r="2.2" fill="#222"/>
<rect x="328.4" y="420.6" width="17.7" height="69.8" rx="0" fill="#fff" stroke="#5e5e5e" stroke-width="1.15"/>
<line x1="327.9" y1="420.6" x2="346.6" y2="420.6" stroke="#1c1c1c" stroke-width="2.4" />
<line x1="327.9" y1="490.4" x2="346.6" y2="490.4" stroke="#1c1c1c" stroke-width="2.4" />
<rect x="336.2" y="448.4" width="6.1" height="4.1" rx="0.9" fill="#ebebeb" stroke="#6a6a6a" stroke-width="1.0"/>
<rect x="331.9" y="458.1" width="7.8" height="4.2" rx="0.9" fill="#ebebeb" stroke="#6a6a6a" stroke-width="1.0"/>
<rect x="436.0" y="420.6" width="16.8" height="69.8" rx="0" fill="#fff" stroke="#5e5e5e" stroke-width="1.15"/>
<line x1="435.5" y1="420.6" x2="453.3" y2="420.6" stroke="#1c1c1c" stroke-width="2.4" />
<line x1="435.5" y1="490.4" x2="453.3" y2="490.4" stroke="#1c1c1c" stroke-width="2.4" />
<rect x="442.8" y="448.4" width="6.1" height="4.1" rx="0.9" fill="#ebebeb" stroke="#6a6a6a" stroke-width="1.0"/>
<rect x="438.8" y="458.1" width="7.8" height="4.2" rx="0.9" fill="#ebebeb" stroke="#6a6a6a" stroke-width="1.0"/>
<path d="M487.3,414.9 H651.5 L653.5,415.7 H661.0 Q663.5,415.7 663.5,418.2 V492.9 Q663.5,495.4 661.0,495.4 H487.3 Z" fill="#fff" stroke="#8a8a8a" stroke-width="1.6" />
<line x1="486.8" y1="414.3" x2="652.0" y2="414.3" stroke="#2a2a2a" stroke-width="1.9" />
<line x1="487.3" y1="495.4" x2="651.5" y2="495.4" stroke="#808080" stroke-width="1.8" />
<rect x="488.5" y="424.1" width="5.6" height="62.8" fill="#cdcdcd"/>
<line x1="488.9" y1="424.1" x2="488.9" y2="486.9" stroke="#666" stroke-width="1.0" />
<rect x="493.9" y="425.3" width="146.9" height="60.4" fill="#a8a8a8"/>
<rect x="492.9" y="423.1" width="5.9" height="64.8" rx="1.7" fill="#fff" stroke="#747474" stroke-width="1.3"/>
<rect x="501.9" y="423.1" width="5.9" height="64.8" rx="1.7" fill="#fff" stroke="#747474" stroke-width="1.3"/>
<rect x="510.8" y="423.1" width="5.9" height="64.8" rx="1.7" fill="#fff" stroke="#747474" stroke-width="1.3"/>
<rect x="519.8" y="423.1" width="5.9" height="64.8" rx="1.7" fill="#fff" stroke="#747474" stroke-width="1.3"/>
<rect x="528.7" y="423.1" width="5.9" height="64.8" rx="1.7" fill="#fff" stroke="#747474" stroke-width="1.3"/>
<rect x="537.6" y="423.1" width="5.9" height="64.8" rx="1.7" fill="#fff" stroke="#747474" stroke-width="1.3"/>
<rect x="546.6" y="423.1" width="5.9" height="64.8" rx="1.7" fill="#fff" stroke="#747474" stroke-width="1.3"/>
<rect x="555.5" y="423.1" width="5.9" height="64.8" rx="1.7" fill="#fff" stroke="#747474" stroke-width="1.3"/>
<rect x="564.5" y="423.1" width="5.9" height="64.8" rx="1.7" fill="#fff" stroke="#747474" stroke-width="1.3"/>
<rect x="573.4" y="423.1" width="5.9" height="64.8" rx="1.7" fill="#fff" stroke="#747474" stroke-width="1.3"/>
<rect x="582.4" y="423.1" width="5.9" height="64.8" rx="1.7" fill="#fff" stroke="#747474" stroke-width="1.3"/>
<rect x="591.3" y="423.1" width="5.9" height="64.8" rx="1.7" fill="#fff" stroke="#747474" stroke-width="1.3"/>
<rect x="600.2" y="423.1" width="5.9" height="64.8" rx="1.7" fill="#fff" stroke="#747474" stroke-width="1.3"/>
<rect x="609.2" y="423.1" width="5.9" height="64.8" rx="1.7" fill="#fff" stroke="#747474" stroke-width="1.3"/>
<rect x="618.1" y="423.1" width="5.9" height="64.8" rx="1.7" fill="#fff" stroke="#747474" stroke-width="1.3"/>
<rect x="627.0" y="423.1" width="5.9" height="64.8" rx="1.7" fill="#fff" stroke="#747474" stroke-width="1.3"/>
<rect x="636.0" y="423.1" width="5.9" height="64.8" rx="1.7" fill="#fff" stroke="#747474" stroke-width="1.3"/>
<ellipse cx="653.9" cy="455.0" rx="2.6" ry="2.0" fill="#e6e6e6" stroke="#666" stroke-width="1.2"/>
<path d="M235.3,526.3 Q235.5,520.9 239.0,520.9 H486.0" fill="none" stroke="#808080" stroke-width="1.1" />
<path d="M235.3,639.5 Q235.5,645.6 239.0,645.6 H486.0" fill="none" stroke="#808080" stroke-width="1.1" />
<line x1="228.4" y1="527.3" x2="486.0" y2="527.3" stroke="#1c1c1c" stroke-width="2.4" />
<line x1="228.9" y1="594.2" x2="486.0" y2="594.2" stroke="#1c1c1c" stroke-width="2.4" />
<line x1="228.4" y1="638.5" x2="486.0" y2="638.5" stroke="#1c1c1c" stroke-width="2.4" />
<line x1="237.5" y1="533.7" x2="486.0" y2="533.7" stroke="#5e5e5e" stroke-width="1.1" />
<line x1="237.5" y1="632.3" x2="486.0" y2="632.3" stroke="#5e5e5e" stroke-width="1.1" />
<line x1="237.0" y1="587.4" x2="486.0" y2="587.4" stroke="#555" stroke-width="1.1" />
<line x1="237.0" y1="600.9" x2="486.0" y2="600.9" stroke="#555" stroke-width="1.1" />
<path d="M227.1,527.3 V638.5" fill="none" stroke="#959595" stroke-width="1.4" />
<rect x="237.8" y="538.3" width="3.8" height="49.1" fill="#b9b9b9"/>
<rect x="237.8" y="600.9" width="3.8" height="26.6" fill="#b9b9b9"/>
<line x1="237.8" y1="538.3" x2="237.8" y2="587.4" stroke="#8a8a8a" stroke-width="0.9" />
<line x1="241.6" y1="533.8" x2="241.6" y2="587.4" stroke="#8a8a8a" stroke-width="0.9" />
<line x1="237.8" y1="600.9" x2="237.8" y2="627.5" stroke="#8a8a8a" stroke-width="0.9" />
<line x1="241.6" y1="600.9" x2="241.6" y2="632.0" stroke="#8a8a8a" stroke-width="0.9" />
<line x1="237.8" y1="550.3" x2="241.6" y2="550.3" stroke="#555" stroke-width="1.2" />
<line x1="237.8" y1="570.8" x2="241.6" y2="570.8" stroke="#666" stroke-width="1.2" />
<path d="M229.1,528.8 L237.8,539.3" fill="none" stroke="#666" stroke-width="1.1" />
<path d="M229.1,637.0 L237.8,626.5" fill="none" stroke="#666" stroke-width="1.1" />
<path d="M237.3,587.4 L228.1,593.2" fill="none" stroke="#555" stroke-width="1.1" />
<path d="M237.3,600.9 L228.1,595.2" fill="none" stroke="#555" stroke-width="1.1" />
<ellipse cx="231.1" cy="527.0" rx="3.6" ry="2.0" fill="#1c1c1c"/>
<ellipse cx="231.1" cy="638.8" rx="3.6" ry="2.0" fill="#1c1c1c"/>
<line x1="250.4" y1="528.0" x2="250.4" y2="639.0" stroke="#888" stroke-width="1.0" stroke-dasharray="8 2"/>
<line x1="259.0" y1="533.9" x2="259.0" y2="587.6" stroke="#888" stroke-width="1.0" />
<line x1="259.0" y1="601.3" x2="259.0" y2="632.3" stroke="#888" stroke-width="1.0" />
<line x1="224.1" y1="582.8" x2="243.1" y2="582.8" stroke="#333" stroke-width="1.2" />
<circle cx="234.7" cy="582.8" r="2" fill="#333"/>
<rect x="326.3" y="527.7" width="17.2" height="110.8" rx="0" fill="#fff" stroke="#444" stroke-width="1.25"/>
<line x1="325.8" y1="527.7" x2="344.0" y2="527.7" stroke="#1c1c1c" stroke-width="2.4" />
<line x1="325.8" y1="638.5" x2="344.0" y2="638.5" stroke="#1c1c1c" stroke-width="2.4" />
<rect x="333.1" y="553.4" width="7.8" height="4.5" rx="0.9" fill="#ebebeb" stroke="#6a6a6a" stroke-width="1.0"/>
<rect x="329.6" y="562.9" width="7.7" height="4.8" rx="0.9" fill="#ebebeb" stroke="#6a6a6a" stroke-width="1.0"/>
<rect x="433.3" y="527.7" width="18.1" height="110.8" rx="0" fill="#fff" stroke="#444" stroke-width="1.25"/>
<line x1="432.8" y1="527.7" x2="451.9" y2="527.7" stroke="#1c1c1c" stroke-width="2.4" />
<line x1="432.8" y1="638.5" x2="451.9" y2="638.5" stroke="#1c1c1c" stroke-width="2.4" />
<rect x="440.3" y="553.4" width="7.8" height="4.5" rx="0.9" fill="#ebebeb" stroke="#6a6a6a" stroke-width="1.0"/>
<rect x="436.8" y="562.9" width="8.6" height="4.8" rx="0.9" fill="#ebebeb" stroke="#6a6a6a" stroke-width="1.0"/>
<line x1="326.0" y1="594.2" x2="344.0" y2="594.2" stroke="#1c1c1c" stroke-width="2.4" />
<line x1="433.0" y1="594.2" x2="452.0" y2="594.2" stroke="#1c1c1c" stroke-width="2.4" />
<path d="M486.0,521.8 H648.1 L650.1,522.6 H657.6 Q660.1,522.6 660.1,525.1 V640.4 Q660.1,642.9 657.6,642.9 H486.0 Z" fill="#fff" stroke="#8a8a8a" stroke-width="1.6" />
<line x1="485.5" y1="521.2" x2="648.6" y2="521.2" stroke="#5a5a5a" stroke-width="2.3" />
<line x1="486.0" y1="642.9" x2="648.1" y2="642.9" stroke="#808080" stroke-width="1.8" />
<rect x="492.0" y="531.3" width="147.7" height="36.0" fill="#c6c6c6"/>
<rect x="491.0" y="529.1" width="6.2" height="40.4" rx="1.4" fill="#fff" stroke="#767676" stroke-width="1.5"/>
<rect x="500.0" y="529.1" width="6.2" height="40.4" rx="1.4" fill="#fff" stroke="#767676" stroke-width="1.5"/>
<rect x="508.9" y="529.1" width="6.2" height="40.4" rx="1.4" fill="#fff" stroke="#767676" stroke-width="1.5"/>
<rect x="517.9" y="529.1" width="6.2" height="40.4" rx="1.4" fill="#fff" stroke="#767676" stroke-width="1.5"/>
<rect x="526.9" y="529.1" width="6.2" height="40.4" rx="1.4" fill="#fff" stroke="#767676" stroke-width="1.5"/>
<rect x="535.9" y="529.1" width="6.2" height="40.4" rx="1.4" fill="#fff" stroke="#767676" stroke-width="1.5"/>
<rect x="544.8" y="529.1" width="6.2" height="40.4" rx="1.4" fill="#fff" stroke="#767676" stroke-width="1.5"/>
<rect x="553.8" y="529.1" width="6.2" height="40.4" rx="1.4" fill="#fff" stroke="#767676" stroke-width="1.5"/>
<rect x="562.8" y="529.1" width="6.2" height="40.4" rx="1.4" fill="#fff" stroke="#767676" stroke-width="1.5"/>
<rect x="571.7" y="529.1" width="6.2" height="40.4" rx="1.4" fill="#fff" stroke="#767676" stroke-width="1.5"/>
<rect x="580.7" y="529.1" width="6.2" height="40.4" rx="1.4" fill="#fff" stroke="#767676" stroke-width="1.5"/>
<rect x="589.7" y="529.1" width="6.2" height="40.4" rx="1.4" fill="#fff" stroke="#767676" stroke-width="1.5"/>
<rect x="598.6" y="529.1" width="6.2" height="40.4" rx="1.4" fill="#fff" stroke="#767676" stroke-width="1.5"/>
<rect x="607.6" y="529.1" width="6.2" height="40.4" rx="1.4" fill="#fff" stroke="#767676" stroke-width="1.5"/>
<rect x="616.6" y="529.1" width="6.2" height="40.4" rx="1.4" fill="#fff" stroke="#767676" stroke-width="1.5"/>
<rect x="625.5" y="529.1" width="6.2" height="40.4" rx="1.4" fill="#fff" stroke="#767676" stroke-width="1.5"/>
<rect x="634.5" y="529.1" width="6.2" height="40.4" rx="1.4" fill="#fff" stroke="#767676" stroke-width="1.5"/>
<rect x="492.0" y="575.1" width="147.7" height="15.4" fill="#c6c6c6"/>
<rect x="491.0" y="572.9" width="6.2" height="19.8" rx="1.4" fill="#fff" stroke="#767676" stroke-width="1.5"/>
<rect x="500.0" y="572.9" width="6.2" height="19.8" rx="1.4" fill="#fff" stroke="#767676" stroke-width="1.5"/>
<rect x="508.9" y="572.9" width="6.2" height="19.8" rx="1.4" fill="#fff" stroke="#767676" stroke-width="1.5"/>
<rect x="517.9" y="572.9" width="6.2" height="19.8" rx="1.4" fill="#fff" stroke="#767676" stroke-width="1.5"/>
<rect x="526.9" y="572.9" width="6.2" height="19.8" rx="1.4" fill="#fff" stroke="#767676" stroke-width="1.5"/>
<rect x="535.9" y="572.9" width="6.2" height="19.8" rx="1.4" fill="#fff" stroke="#767676" stroke-width="1.5"/>
<rect x="544.8" y="572.9" width="6.2" height="19.8" rx="1.4" fill="#fff" stroke="#767676" stroke-width="1.5"/>
<rect x="553.8" y="572.9" width="6.2" height="19.8" rx="1.4" fill="#fff" stroke="#767676" stroke-width="1.5"/>
<rect x="562.8" y="572.9" width="6.2" height="19.8" rx="1.4" fill="#fff" stroke="#767676" stroke-width="1.5"/>
<rect x="571.7" y="572.9" width="6.2" height="19.8" rx="1.4" fill="#fff" stroke="#767676" stroke-width="1.5"/>
<rect x="580.7" y="572.9" width="6.2" height="19.8" rx="1.4" fill="#fff" stroke="#767676" stroke-width="1.5"/>
<rect x="589.7" y="572.9" width="6.2" height="19.8" rx="1.4" fill="#fff" stroke="#767676" stroke-width="1.5"/>
<rect x="598.6" y="572.9" width="6.2" height="19.8" rx="1.4" fill="#fff" stroke="#767676" stroke-width="1.5"/>
<rect x="607.6" y="572.9" width="6.2" height="19.8" rx="1.4" fill="#fff" stroke="#767676" stroke-width="1.5"/>
<rect x="616.6" y="572.9" width="6.2" height="19.8" rx="1.4" fill="#fff" stroke="#767676" stroke-width="1.5"/>
<rect x="625.5" y="572.9" width="6.2" height="19.8" rx="1.4" fill="#fff" stroke="#767676" stroke-width="1.5"/>
<rect x="634.5" y="572.9" width="6.2" height="19.8" rx="1.4" fill="#fff" stroke="#767676" stroke-width="1.5"/>
<rect x="492.0" y="598.6" width="147.7" height="35.5" fill="#c6c6c6"/>
<rect x="491.0" y="596.4" width="6.2" height="39.9" rx="1.4" fill="#fff" stroke="#767676" stroke-width="1.5"/>
<rect x="500.0" y="596.4" width="6.2" height="39.9" rx="1.4" fill="#fff" stroke="#767676" stroke-width="1.5"/>
<rect x="508.9" y="596.4" width="6.2" height="39.9" rx="1.4" fill="#fff" stroke="#767676" stroke-width="1.5"/>
<rect x="517.9" y="596.4" width="6.2" height="39.9" rx="1.4" fill="#fff" stroke="#767676" stroke-width="1.5"/>
<rect x="526.9" y="596.4" width="6.2" height="39.9" rx="1.4" fill="#fff" stroke="#767676" stroke-width="1.5"/>
<rect x="535.9" y="596.4" width="6.2" height="39.9" rx="1.4" fill="#fff" stroke="#767676" stroke-width="1.5"/>
<rect x="544.8" y="596.4" width="6.2" height="39.9" rx="1.4" fill="#fff" stroke="#767676" stroke-width="1.5"/>
<rect x="553.8" y="596.4" width="6.2" height="39.9" rx="1.4" fill="#fff" stroke="#767676" stroke-width="1.5"/>
<rect x="562.8" y="596.4" width="6.2" height="39.9" rx="1.4" fill="#fff" stroke="#767676" stroke-width="1.5"/>
<rect x="571.7" y="596.4" width="6.2" height="39.9" rx="1.4" fill="#fff" stroke="#767676" stroke-width="1.5"/>
<rect x="580.7" y="596.4" width="6.2" height="39.9" rx="1.4" fill="#fff" stroke="#767676" stroke-width="1.5"/>
<rect x="589.7" y="596.4" width="6.2" height="39.9" rx="1.4" fill="#fff" stroke="#767676" stroke-width="1.5"/>
<rect x="598.6" y="596.4" width="6.2" height="39.9" rx="1.4" fill="#fff" stroke="#767676" stroke-width="1.5"/>
<rect x="607.6" y="596.4" width="6.2" height="39.9" rx="1.4" fill="#fff" stroke="#767676" stroke-width="1.5"/>
<rect x="616.6" y="596.4" width="6.2" height="39.9" rx="1.4" fill="#fff" stroke="#767676" stroke-width="1.5"/>
<rect x="625.5" y="596.4" width="6.2" height="39.9" rx="1.4" fill="#fff" stroke="#767676" stroke-width="1.5"/>
<rect x="634.5" y="596.4" width="6.2" height="39.9" rx="1.4" fill="#fff" stroke="#767676" stroke-width="1.5"/>
<ellipse cx="650.2" cy="582.3" rx="2.6" ry="2.0" fill="#e6e6e6" stroke="#666" stroke-width="1.2"/>
<path d="M235.3,674.1 Q235.5,668.5 239.0,668.5 H486.0" fill="none" stroke="#808080" stroke-width="1.1" />
<path d="M235.3,787.2 Q235.5,793.0 239.0,793.0 H486.0" fill="none" stroke="#808080" stroke-width="1.1" />
<line x1="228.0" y1="675.1" x2="486.0" y2="675.1" stroke="#1c1c1c" stroke-width="2.4" />
<line x1="228.5" y1="743.0" x2="486.0" y2="743.0" stroke="#1c1c1c" stroke-width="2.4" />
<line x1="228.0" y1="786.2" x2="486.0" y2="786.2" stroke="#1c1c1c" stroke-width="2.4" />
<line x1="237.5" y1="682.2" x2="486.0" y2="682.2" stroke="#5e5e5e" stroke-width="1.1" />
<line x1="237.5" y1="780.2" x2="486.0" y2="780.2" stroke="#5e5e5e" stroke-width="1.1" />
<line x1="237.0" y1="736.6" x2="486.0" y2="736.6" stroke="#555" stroke-width="1.1" />
<line x1="237.0" y1="748.7" x2="486.0" y2="748.7" stroke="#555" stroke-width="1.1" />
<path d="M226.8,675.1 V786.2" fill="none" stroke="#959595" stroke-width="1.4" />
<rect x="237.5" y="686.1" width="3.8" height="50.5" fill="#b9b9b9"/>
<rect x="237.5" y="748.7" width="3.8" height="26.5" fill="#b9b9b9"/>
<line x1="237.5" y1="686.1" x2="237.5" y2="736.6" stroke="#8a8a8a" stroke-width="0.9" />
<line x1="241.3" y1="681.6" x2="241.3" y2="736.6" stroke="#8a8a8a" stroke-width="0.9" />
<line x1="237.5" y1="748.7" x2="237.5" y2="775.2" stroke="#8a8a8a" stroke-width="0.9" />
<line x1="241.3" y1="748.7" x2="241.3" y2="779.7" stroke="#8a8a8a" stroke-width="0.9" />
<line x1="237.5" y1="698.1" x2="241.3" y2="698.1" stroke="#555" stroke-width="1.2" />
<line x1="237.5" y1="718.6" x2="241.3" y2="718.6" stroke="#666" stroke-width="1.2" />
<path d="M228.8,676.6 L237.5,687.1" fill="none" stroke="#666" stroke-width="1.1" />
<path d="M228.8,784.7 L237.5,774.2" fill="none" stroke="#666" stroke-width="1.1" />
<path d="M237.0,736.6 L227.8,742.0" fill="none" stroke="#555" stroke-width="1.1" />
<path d="M237.0,748.7 L227.8,744.0" fill="none" stroke="#555" stroke-width="1.1" />
<ellipse cx="230.8" cy="674.8" rx="3.6" ry="2.0" fill="#1c1c1c"/>
<ellipse cx="230.8" cy="786.5" rx="3.6" ry="2.0" fill="#1c1c1c"/>
<path d="M268.2,682.2 Q269.8,682.2 270.2,684.0 L271.8,703.2 Q272.2,705.2 274.2,705.2 H279.4 Q281.4,705.2 281.8,703.2 L283.4,684.0 Q283.8,682.2 285.4,682.2" fill="none" stroke="#4a4a4a" stroke-width="1.25" />
<path d="M267.5,736.6 Q268.9,736.6 269.5,735.0 L272.0,713.6 Q272.7,711.6 274.7,711.6 H278.9 Q280.9,711.6 281.6,713.6 L284.1,735.0 Q284.7,736.6 286.1,736.6" fill="none" stroke="#4a4a4a" stroke-width="1.25" />
<path d="M267.5,780.2 Q268.9,780.2 269.4,778.6 L271.8,758.8 Q272.5,756.8 274.5,756.8 H279.1 Q281.1,756.8 281.8,758.8 L284.2,778.6 Q284.7,780.2 286.1,780.2" fill="none" stroke="#4a4a4a" stroke-width="1.25" />
<path d="M292.1,682.2 Q293.8,682.2 294.2,684.0 L295.7,703.2 Q296.1,705.2 298.1,705.2 H303.4 Q305.4,705.2 305.8,703.2 L307.3,684.0 Q307.8,682.2 309.4,682.2" fill="none" stroke="#4a4a4a" stroke-width="1.25" />
<path d="M291.4,736.6 Q292.9,736.6 293.4,735.0 L295.9,713.6 Q296.7,711.6 298.7,711.6 H302.8 Q304.8,711.6 305.6,713.6 L308.1,735.0 Q308.6,736.6 310.1,736.6" fill="none" stroke="#4a4a4a" stroke-width="1.25" />
<path d="M291.4,780.2 Q292.9,780.2 293.4,778.6 L295.8,758.8 Q296.4,756.8 298.4,756.8 H303.1 Q305.1,756.8 305.7,758.8 L308.1,778.6 Q308.6,780.2 310.1,780.2" fill="none" stroke="#4a4a4a" stroke-width="1.25" />
<path d="M316.1,682.2 Q317.7,682.2 318.1,684.0 L319.7,703.2 Q320.1,705.2 322.1,705.2 H327.3 Q329.3,705.2 329.7,703.2 L331.3,684.0 Q331.7,682.2 333.3,682.2" fill="none" stroke="#4a4a4a" stroke-width="1.25" />
<path d="M315.4,736.6 Q316.8,736.6 317.4,735.0 L319.9,713.6 Q320.6,711.6 322.6,711.6 H326.8 Q328.8,711.6 329.5,713.6 L332.0,735.0 Q332.6,736.6 334.0,736.6" fill="none" stroke="#4a4a4a" stroke-width="1.25" />
<path d="M315.4,780.2 Q316.8,780.2 317.3,778.6 L319.7,758.8 Q320.4,756.8 322.4,756.8 H327.0 Q329.0,756.8 329.7,758.8 L332.1,778.6 Q332.6,780.2 334.0,780.2" fill="none" stroke="#4a4a4a" stroke-width="1.25" />
<path d="M340.1,682.2 Q341.7,682.2 342.1,684.0 L343.6,703.2 Q344.1,705.2 346.1,705.2 H351.3 Q353.3,705.2 353.7,703.2 L355.2,684.0 Q355.7,682.2 357.3,682.2" fill="none" stroke="#4a4a4a" stroke-width="1.25" />
<path d="M339.4,736.6 Q340.8,736.6 341.3,735.0 L343.8,713.6 Q344.6,711.6 346.6,711.6 H350.8 Q352.8,711.6 353.5,713.6 L356.0,735.0 Q356.6,736.6 358.0,736.6" fill="none" stroke="#4a4a4a" stroke-width="1.25" />
<path d="M339.4,780.2 Q340.8,780.2 341.3,778.6 L343.7,758.8 Q344.4,756.8 346.4,756.8 H351.0 Q353.0,756.8 353.6,758.8 L356.0,778.6 Q356.6,780.2 358.0,780.2" fill="none" stroke="#4a4a4a" stroke-width="1.25" />
<path d="M364.0,682.2 Q365.6,682.2 366.0,684.0 L367.6,703.2 Q368.0,705.2 370.0,705.2 H375.2 Q377.2,705.2 377.6,703.2 L379.2,684.0 Q379.6,682.2 381.2,682.2" fill="none" stroke="#4a4a4a" stroke-width="1.25" />
<path d="M363.3,736.6 Q364.7,736.6 365.3,735.0 L367.8,713.6 Q368.5,711.6 370.5,711.6 H374.7 Q376.7,711.6 377.4,713.6 L379.9,735.0 Q380.5,736.6 381.9,736.6" fill="none" stroke="#4a4a4a" stroke-width="1.25" />
<path d="M363.3,780.2 Q364.7,780.2 365.2,778.6 L367.6,758.8 Q368.3,756.8 370.3,756.8 H374.9 Q376.9,756.8 377.6,758.8 L380.0,778.6 Q380.5,780.2 381.9,780.2" fill="none" stroke="#4a4a4a" stroke-width="1.25" />
<path d="M387.9,682.2 Q389.6,682.2 390.0,684.0 L391.5,703.2 Q391.9,705.2 393.9,705.2 H399.2 Q401.2,705.2 401.6,703.2 L403.1,684.0 Q403.6,682.2 405.2,682.2" fill="none" stroke="#4a4a4a" stroke-width="1.25" />
<path d="M387.2,736.6 Q388.7,736.6 389.2,735.0 L391.7,713.6 Q392.5,711.6 394.5,711.6 H398.6 Q400.6,711.6 401.4,713.6 L403.9,735.0 Q404.4,736.6 405.9,736.6" fill="none" stroke="#4a4a4a" stroke-width="1.25" />
<path d="M387.2,780.2 Q388.7,780.2 389.2,778.6 L391.6,758.8 Q392.2,756.8 394.2,756.8 H398.9 Q400.9,756.8 401.5,758.8 L403.9,778.6 Q404.4,780.2 405.9,780.2" fill="none" stroke="#4a4a4a" stroke-width="1.25" />
<path d="M411.9,682.2 Q413.5,682.2 413.9,684.0 L415.5,703.2 Q415.9,705.2 417.9,705.2 H423.1 Q425.1,705.2 425.5,703.2 L427.1,684.0 Q427.5,682.2 429.1,682.2" fill="none" stroke="#4a4a4a" stroke-width="1.25" />
<path d="M411.2,736.6 Q412.6,736.6 413.2,735.0 L415.7,713.6 Q416.4,711.6 418.4,711.6 H422.6 Q424.6,711.6 425.3,713.6 L427.8,735.0 Q428.4,736.6 429.8,736.6" fill="none" stroke="#4a4a4a" stroke-width="1.25" />
<path d="M411.2,780.2 Q412.6,780.2 413.1,778.6 L415.5,758.8 Q416.2,756.8 418.2,756.8 H422.8 Q424.8,756.8 425.5,758.8 L427.9,778.6 Q428.4,780.2 429.8,780.2" fill="none" stroke="#4a4a4a" stroke-width="1.25" />
<path d="M435.8,682.2 Q437.4,682.2 437.9,684.0 L439.4,703.2 Q439.8,705.2 441.8,705.2 H447.1 Q449.1,705.2 449.5,703.2 L451.0,684.0 Q451.4,682.2 453.1,682.2" fill="none" stroke="#4a4a4a" stroke-width="1.25" />
<path d="M435.1,736.6 Q436.6,736.6 437.1,735.0 L439.6,713.6 Q440.4,711.6 442.4,711.6 H446.5 Q448.5,711.6 449.3,713.6 L451.8,735.0 Q452.3,736.6 453.8,736.6" fill="none" stroke="#4a4a4a" stroke-width="1.25" />
<path d="M435.1,780.2 Q436.6,780.2 437.1,778.6 L439.5,758.8 Q440.1,756.8 442.1,756.8 H446.8 Q448.8,756.8 449.4,758.8 L451.8,778.6 Q452.3,780.2 453.8,780.2" fill="none" stroke="#4a4a4a" stroke-width="1.25" />
<path d="M459.8,682.2 Q461.4,682.2 461.8,684.0 L463.4,703.2 Q463.8,705.2 465.8,705.2 H471.0 Q473.0,705.2 473.4,703.2 L475.0,684.0 Q475.4,682.2 477.0,682.2" fill="none" stroke="#4a4a4a" stroke-width="1.25" />
<path d="M459.1,736.6 Q460.5,736.6 461.1,735.0 L463.6,713.6 Q464.3,711.6 466.3,711.6 H470.5 Q472.5,711.6 473.2,713.6 L475.7,735.0 Q476.3,736.6 477.7,736.6" fill="none" stroke="#4a4a4a" stroke-width="1.25" />
<path d="M459.1,780.2 Q460.5,780.2 461.0,778.6 L463.4,758.8 Q464.1,756.8 466.1,756.8 H470.7 Q472.7,756.8 473.4,758.8 L475.8,778.6 Q476.3,780.2 477.7,780.2" fill="none" stroke="#4a4a4a" stroke-width="1.25" />
<line x1="250.1" y1="676.0" x2="250.1" y2="786.0" stroke="#555" stroke-width="1.0" stroke-dasharray="8 2 2 2"/>
<line x1="258.4" y1="682.2" x2="258.4" y2="736.6" stroke="#555" stroke-width="1.0" />
<line x1="258.4" y1="748.7" x2="258.4" y2="780.2" stroke="#555" stroke-width="1.0" />
<line x1="224.5" y1="730.5" x2="243.5" y2="730.5" stroke="#777" stroke-width="1.0" />
<circle cx="234.5" cy="730.5" r="2" fill="#222"/>
<rect x="326.3" y="675.1" width="17.2" height="111.1" rx="0" fill="#fff" stroke="#444" stroke-width="1.25"/>
<line x1="325.8" y1="675.1" x2="344.0" y2="675.1" stroke="#1c1c1c" stroke-width="2.4" />
<line x1="325.8" y1="786.2" x2="344.0" y2="786.2" stroke="#1c1c1c" stroke-width="2.4" />
<rect x="333.1" y="701.9" width="8.3" height="3.9" rx="0.9" fill="#ebebeb" stroke="#6a6a6a" stroke-width="1.0"/>
<rect x="329.6" y="711.3" width="7.4" height="3.7" rx="0.9" fill="#ebebeb" stroke="#6a6a6a" stroke-width="1.0"/>
<rect x="433.3" y="675.1" width="17.7" height="111.1" rx="0" fill="#fff" stroke="#444" stroke-width="1.25"/>
<line x1="432.8" y1="675.1" x2="451.5" y2="675.1" stroke="#1c1c1c" stroke-width="2.4" />
<line x1="432.8" y1="786.2" x2="451.5" y2="786.2" stroke="#1c1c1c" stroke-width="2.4" />
<rect x="440.3" y="701.9" width="7.8" height="3.9" rx="0.9" fill="#ebebeb" stroke="#6a6a6a" stroke-width="1.0"/>
<rect x="437.1" y="711.3" width="8.2" height="3.7" rx="0.9" fill="#ebebeb" stroke="#6a6a6a" stroke-width="1.0"/>
<line x1="326.0" y1="743.0" x2="344.0" y2="743.0" stroke="#1c1c1c" stroke-width="2.4" />
<line x1="433.0" y1="743.0" x2="452.0" y2="743.0" stroke="#1c1c1c" stroke-width="2.4" />
<path d="M485.4,670.7 H648.1 L650.1,671.5 H657.6 Q660.1,671.5 660.1,674.0 V789.1 Q660.1,791.6 657.6,791.6 H485.4 Z" fill="#fff" stroke="#8a8a8a" stroke-width="1.6" />
<line x1="484.9" y1="670.1" x2="648.6" y2="670.1" stroke="#5a5a5a" stroke-width="2.3" />
<line x1="485.4" y1="791.6" x2="648.1" y2="791.6" stroke="#808080" stroke-width="1.8" />
<rect x="492.0" y="679.5" width="147.7" height="36.3" fill="#c6c6c6"/>
<rect x="491.0" y="677.3" width="6.2" height="40.7" rx="1.4" fill="#fff" stroke="#767676" stroke-width="1.5"/>
<rect x="500.0" y="677.3" width="6.2" height="40.7" rx="1.4" fill="#fff" stroke="#767676" stroke-width="1.5"/>
<rect x="508.9" y="677.3" width="6.2" height="40.7" rx="1.4" fill="#fff" stroke="#767676" stroke-width="1.5"/>
<rect x="517.9" y="677.3" width="6.2" height="40.7" rx="1.4" fill="#fff" stroke="#767676" stroke-width="1.5"/>
<rect x="526.9" y="677.3" width="6.2" height="40.7" rx="1.4" fill="#fff" stroke="#767676" stroke-width="1.5"/>
<rect x="535.9" y="677.3" width="6.2" height="40.7" rx="1.4" fill="#fff" stroke="#767676" stroke-width="1.5"/>
<rect x="544.8" y="677.3" width="6.2" height="40.7" rx="1.4" fill="#fff" stroke="#767676" stroke-width="1.5"/>
<rect x="553.8" y="677.3" width="6.2" height="40.7" rx="1.4" fill="#fff" stroke="#767676" stroke-width="1.5"/>
<rect x="562.8" y="677.3" width="6.2" height="40.7" rx="1.4" fill="#fff" stroke="#767676" stroke-width="1.5"/>
<rect x="571.7" y="677.3" width="6.2" height="40.7" rx="1.4" fill="#fff" stroke="#767676" stroke-width="1.5"/>
<rect x="580.7" y="677.3" width="6.2" height="40.7" rx="1.4" fill="#fff" stroke="#767676" stroke-width="1.5"/>
<rect x="589.7" y="677.3" width="6.2" height="40.7" rx="1.4" fill="#fff" stroke="#767676" stroke-width="1.5"/>
<rect x="598.6" y="677.3" width="6.2" height="40.7" rx="1.4" fill="#fff" stroke="#767676" stroke-width="1.5"/>
<rect x="607.6" y="677.3" width="6.2" height="40.7" rx="1.4" fill="#fff" stroke="#767676" stroke-width="1.5"/>
<rect x="616.6" y="677.3" width="6.2" height="40.7" rx="1.4" fill="#fff" stroke="#767676" stroke-width="1.5"/>
<rect x="625.5" y="677.3" width="6.2" height="40.7" rx="1.4" fill="#fff" stroke="#767676" stroke-width="1.5"/>
<rect x="634.5" y="677.3" width="6.2" height="40.7" rx="1.4" fill="#fff" stroke="#767676" stroke-width="1.5"/>
<rect x="492.0" y="723.1" width="147.7" height="15.6" fill="#c6c6c6"/>
<rect x="491.0" y="720.9" width="6.2" height="20.0" rx="1.4" fill="#fff" stroke="#767676" stroke-width="1.5"/>
<rect x="500.0" y="720.9" width="6.2" height="20.0" rx="1.4" fill="#fff" stroke="#767676" stroke-width="1.5"/>
<rect x="508.9" y="720.9" width="6.2" height="20.0" rx="1.4" fill="#fff" stroke="#767676" stroke-width="1.5"/>
<rect x="517.9" y="720.9" width="6.2" height="20.0" rx="1.4" fill="#fff" stroke="#767676" stroke-width="1.5"/>
<rect x="526.9" y="720.9" width="6.2" height="20.0" rx="1.4" fill="#fff" stroke="#767676" stroke-width="1.5"/>
<rect x="535.9" y="720.9" width="6.2" height="20.0" rx="1.4" fill="#fff" stroke="#767676" stroke-width="1.5"/>
<rect x="544.8" y="720.9" width="6.2" height="20.0" rx="1.4" fill="#fff" stroke="#767676" stroke-width="1.5"/>
<rect x="553.8" y="720.9" width="6.2" height="20.0" rx="1.4" fill="#fff" stroke="#767676" stroke-width="1.5"/>
<rect x="562.8" y="720.9" width="6.2" height="20.0" rx="1.4" fill="#fff" stroke="#767676" stroke-width="1.5"/>
<rect x="571.7" y="720.9" width="6.2" height="20.0" rx="1.4" fill="#fff" stroke="#767676" stroke-width="1.5"/>
<rect x="580.7" y="720.9" width="6.2" height="20.0" rx="1.4" fill="#fff" stroke="#767676" stroke-width="1.5"/>
<rect x="589.7" y="720.9" width="6.2" height="20.0" rx="1.4" fill="#fff" stroke="#767676" stroke-width="1.5"/>
<rect x="598.6" y="720.9" width="6.2" height="20.0" rx="1.4" fill="#fff" stroke="#767676" stroke-width="1.5"/>
<rect x="607.6" y="720.9" width="6.2" height="20.0" rx="1.4" fill="#fff" stroke="#767676" stroke-width="1.5"/>
<rect x="616.6" y="720.9" width="6.2" height="20.0" rx="1.4" fill="#fff" stroke="#767676" stroke-width="1.5"/>
<rect x="625.5" y="720.9" width="6.2" height="20.0" rx="1.4" fill="#fff" stroke="#767676" stroke-width="1.5"/>
<rect x="634.5" y="720.9" width="6.2" height="20.0" rx="1.4" fill="#fff" stroke="#767676" stroke-width="1.5"/>
<rect x="492.0" y="746.7" width="147.7" height="35.5" fill="#c6c6c6"/>
<rect x="491.0" y="744.5" width="6.2" height="39.9" rx="1.4" fill="#fff" stroke="#767676" stroke-width="1.5"/>
<rect x="500.0" y="744.5" width="6.2" height="39.9" rx="1.4" fill="#fff" stroke="#767676" stroke-width="1.5"/>
<rect x="508.9" y="744.5" width="6.2" height="39.9" rx="1.4" fill="#fff" stroke="#767676" stroke-width="1.5"/>
<rect x="517.9" y="744.5" width="6.2" height="39.9" rx="1.4" fill="#fff" stroke="#767676" stroke-width="1.5"/>
<rect x="526.9" y="744.5" width="6.2" height="39.9" rx="1.4" fill="#fff" stroke="#767676" stroke-width="1.5"/>
<rect x="535.9" y="744.5" width="6.2" height="39.9" rx="1.4" fill="#fff" stroke="#767676" stroke-width="1.5"/>
<rect x="544.8" y="744.5" width="6.2" height="39.9" rx="1.4" fill="#fff" stroke="#767676" stroke-width="1.5"/>
<rect x="553.8" y="744.5" width="6.2" height="39.9" rx="1.4" fill="#fff" stroke="#767676" stroke-width="1.5"/>
<rect x="562.8" y="744.5" width="6.2" height="39.9" rx="1.4" fill="#fff" stroke="#767676" stroke-width="1.5"/>
<rect x="571.7" y="744.5" width="6.2" height="39.9" rx="1.4" fill="#fff" stroke="#767676" stroke-width="1.5"/>
<rect x="580.7" y="744.5" width="6.2" height="39.9" rx="1.4" fill="#fff" stroke="#767676" stroke-width="1.5"/>
<rect x="589.7" y="744.5" width="6.2" height="39.9" rx="1.4" fill="#fff" stroke="#767676" stroke-width="1.5"/>
<rect x="598.6" y="744.5" width="6.2" height="39.9" rx="1.4" fill="#fff" stroke="#767676" stroke-width="1.5"/>
<rect x="607.6" y="744.5" width="6.2" height="39.9" rx="1.4" fill="#fff" stroke="#767676" stroke-width="1.5"/>
<rect x="616.6" y="744.5" width="6.2" height="39.9" rx="1.4" fill="#fff" stroke="#767676" stroke-width="1.5"/>
<rect x="625.5" y="744.5" width="6.2" height="39.9" rx="1.4" fill="#fff" stroke="#767676" stroke-width="1.5"/>
<rect x="634.5" y="744.5" width="6.2" height="39.9" rx="1.4" fill="#fff" stroke="#767676" stroke-width="1.5"/>
<ellipse cx="650.8" cy="730.4" rx="2.6" ry="2.0" fill="#e6e6e6" stroke="#666" stroke-width="1.2"/>
</svg>
</body>
</html>
